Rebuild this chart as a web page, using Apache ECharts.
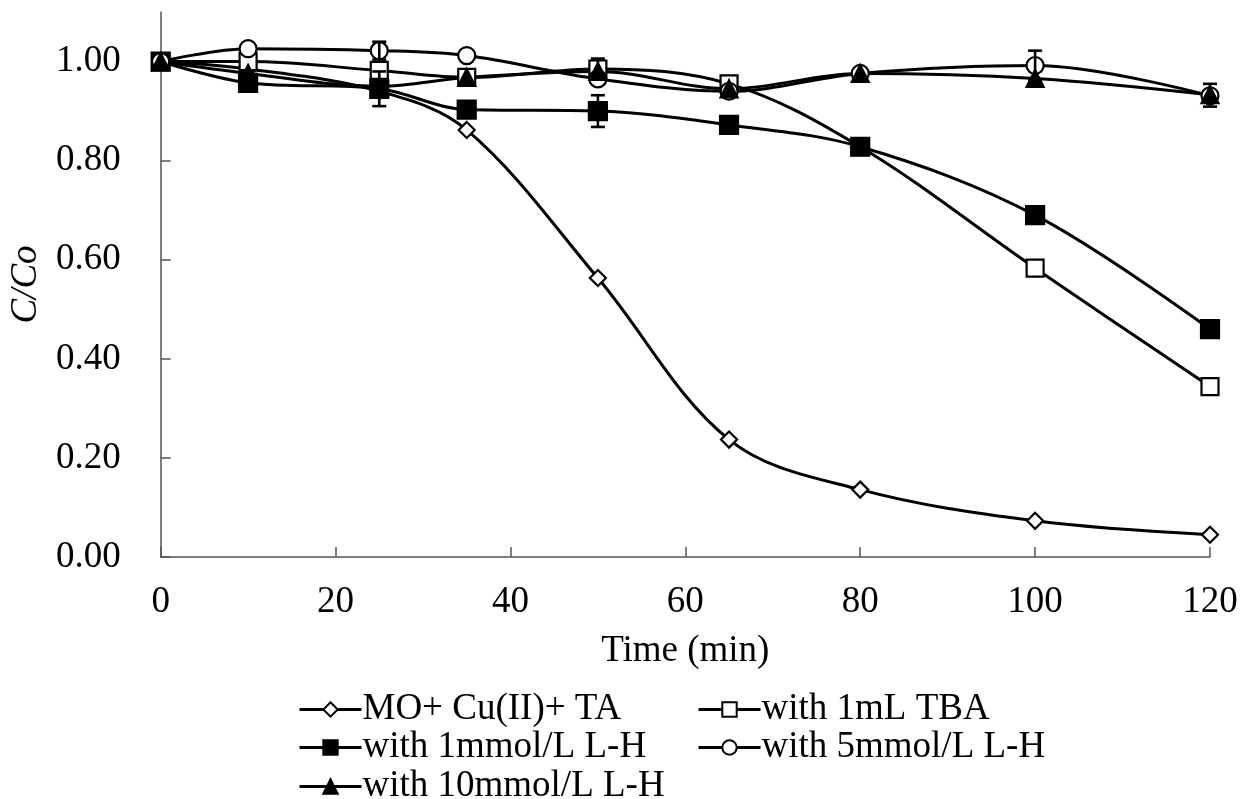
<!DOCTYPE html>
<html>
<head>
<meta charset="utf-8">
<script src="https://cdn.jsdelivr.net/npm/echarts@6/dist/echarts.min.js"></script>
<style>
  html, body { margin: 0; padding: 0; background: #fff; }
  #chart { width: 1241px; height: 799px; }
</style>
</head>
<body>
<div id="chart"></div>
<script>
const times = [0, 10, 25, 35, 50, 65, 80, 100, 120];
const moCuTa = [1.0, 0.985, 0.94, 0.862, 0.563, 0.237, 0.136, 0.073, 0.045];
const tba = [1.0, 1.0, 0.982, 0.968, 0.985, 0.955, 0.828, 0.583, 0.344];
const lh1 = [1.0, 0.957, 0.945, 0.903, 0.90, 0.872, 0.828, 0.69, 0.46];
const lh5 = [1.0, 1.026, 1.022, 1.012, 0.965, 0.94, 0.976, 0.992, 0.931];
const lh10 = [1.0, 0.976, 0.95, 0.968, 0.98, 0.945, 0.976, 0.966, 0.933];

// error bars: [time, low, high]
const tbaErr = [[50, 0.964, 1.006]];
const lh1Err = [[25, 0.91, 0.98], [50, 0.868, 0.932]];
const lh5Err = [[25, 1.004, 1.04], [100, 0.962, 1.022], [120, 0.909, 0.955]];

const names = ['MO+ Cu(II)+ TA', 'with 1mL TBA', 'with 1mmol/L L-H', 'with 5mmol/L L-H', 'with 10mmol/L L-H'];
const xTicks = [0, 20, 40, 60, 80, 100, 120];

const FONT = '"Liberation Serif", "Times New Roman", serif';

function pairs(ys) {
  return times.map((t, i) => [t, ys[i]]);
}

function lineSeries(name, ys, symbol, size, filled) {
  return {
    name: name,
    type: 'line',
    data: pairs(ys),
    smooth: 0.35,
    symbol: symbol,
    symbolSize: size,
    showAllSymbol: true,
    lineStyle: {color: '#000', width: 3},
    itemStyle: {color: filled ? '#000' : '#fff', borderColor: '#000', borderWidth: 2.2},
    emphasis: {disabled: true},
    animation: false,
    z: 3
  };
}

function errSeries(data) {
  return {
    type: 'custom',
    data: data,
    silent: true,
    animation: false,
    z: 4,
    renderItem: (params, api) => {
      const lo = api.coord([api.value(0), api.value(1)]);
      const hi = api.coord([api.value(0), api.value(2)]);
      const w = 7;
      const style = {stroke: '#000', lineWidth: 2.6};
      return {
        type: 'group',
        children: [
          {type: 'line', shape: {x1: lo[0], y1: lo[1], x2: hi[0], y2: hi[1]}, style: style},
          {type: 'line', shape: {x1: lo[0] - w, y1: lo[1], x2: lo[0] + w, y2: lo[1]}, style: style},
          {type: 'line', shape: {x1: hi[0] - w, y1: hi[1], x2: hi[0] + w, y2: hi[1]}, style: style}
        ]
      };
    }
  };
}

function legendAt(name, left, top) {
  return {
    data: [name],
    left: left,
    top: top,
    itemWidth: 62,
    itemHeight: 18,
    selectedMode: false,
    lineStyle: {width: 3, color: '#000'},
    textStyle: {fontFamily: FONT, fontSize: 37, color: '#000', padding: [0, 0, 0, -4]}
  };
}

const chart = echarts.init(document.getElementById('chart'));

const option = {
  backgroundColor: '#fff',
  legend: [
    legendAt(names[0], 293, 686),
    legendAt(names[1], 692, 686),
    legendAt(names[2], 293, 724),
    legendAt(names[3], 692, 724),
    legendAt(names[4], 293, 763)
  ],
  grid: {left: 160, right: 31, top: 12, bottom: 242},
  xAxis: {
    type: 'value',
    min: 0,
    max: 120,
    interval: 20,
    name: 'Time (min)',
    nameLocation: 'middle',
    nameGap: 76,
    nameTextStyle: {fontFamily: FONT, fontSize: 37, color: '#000'},
    axisLine: {lineStyle: {color: '#555', width: 1.5}},
    axisTick: {inside: true, length: 10, lineStyle: {color: '#555', width: 1.5}},
    axisLabel: {fontFamily: FONT, fontSize: 37, color: '#000', margin: 27,
      formatter: v => xTicks.indexOf(v) >= 0 ? String(v) : ''},
    splitLine: {show: false}
  },
  yAxis: {
    type: 'value',
    min: 0,
    max: 1.1,
    interval: 0.2,
    name: 'C/Co',
    nameLocation: 'middle',
    nameGap: 105,
    nameRotate: 90,
    nameTextStyle: {fontFamily: FONT, fontSize: 37, fontStyle: 'italic', color: '#000'},
    axisLine: {show: true, lineStyle: {color: '#555', width: 1.5}},
    axisTick: {show: true, inside: true, length: 10, lineStyle: {color: '#555', width: 1.5}},
    axisLabel: {fontFamily: FONT, fontSize: 37, color: '#000', margin: 40,
      showMaxLabel: false,
      formatter: v => v > 1.01 ? '' : v.toFixed(2)},
    splitLine: {show: false}
  },
  series: [
    lineSeries(names[0], moCuTa, 'diamond', 16, false),
    lineSeries(names[1], tba, 'rect', 17, false),
    lineSeries(names[2], lh1, 'rect', 18, true),
    lineSeries(names[3], lh5, 'circle', 17, false),
    lineSeries(names[4], lh10, 'triangle', 17, true),
    errSeries(tbaErr),
    errSeries(lh1Err),
    errSeries(lh5Err)
  ]
};

chart.setOption(option);
</script>
</body>
</html>
